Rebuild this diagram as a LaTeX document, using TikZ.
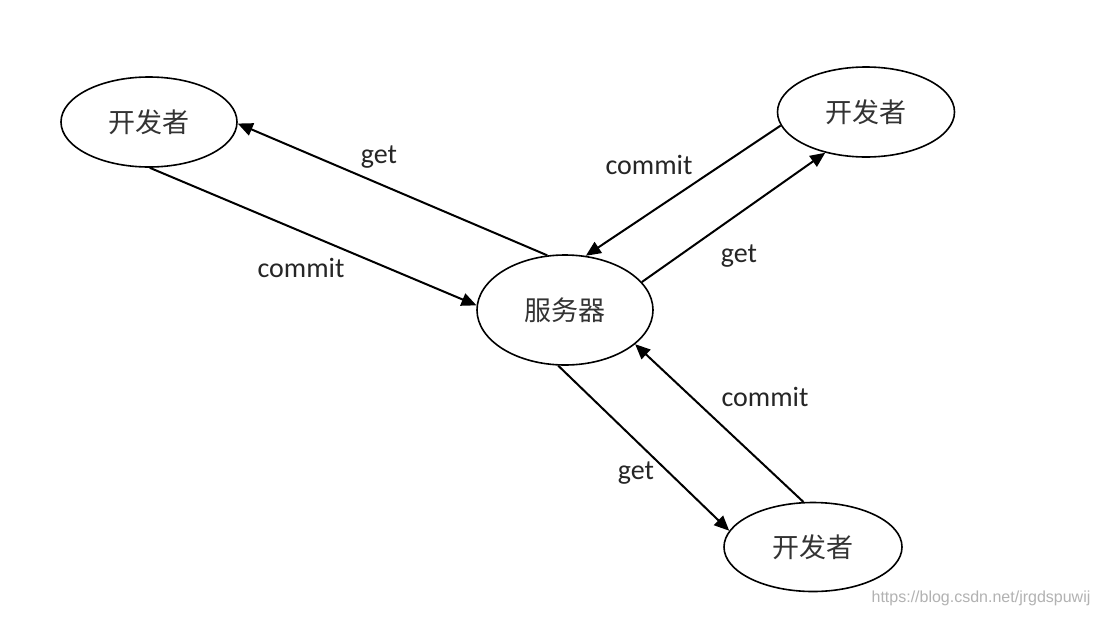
\documentclass[tikz,border=0pt]{standalone}
\usepackage{fontspec}
\setmainfont{Carlito}
\newfontfamily\cjk{Noto Sans CJK SC}
\newfontfamily\wmfont{Liberation Sans}
\usetikzlibrary{arrows.meta, shapes.geometric}

\tikzset{
	party/.style={shape=ellipse, draw, line width=1.6pt, inner sep=0pt, minimum width=176pt, minimum height=90pt, font=\cjk\fontsize{27}{31}\selectfont, text=black!80},
	flow/.style={line width=2pt, -{Triangle[length=15pt, width=13pt]}},
	tag/.style={font=\fontsize{28}{32}\selectfont, text=black!85}
}

\begin{document}
\begin{tikzpicture}[x=1pt, y=-1pt]
	\useasboundingbox[fill=white] (0,0) rectangle (1099,616);
	% Nodes:
	\node[party] (devA) at (149,122) {开发者};
	\node[party, minimum width=177pt] (devB) at (866,112) {开发者};
	\node[party, minimum width=176pt, minimum height=110pt] (server) at (565,310) {服务器};
	\node[party, minimum width=178pt, minimum height=89pt] (devC) at (813,547) {开发者};
	% Wires and labels:
	\draw[flow] (server.108) -- (devA.-1);
	\draw[flow] (devA.-89) -- (server.177);
	\draw[flow] (devB.189) -- (server.69);
	\draw[flow] (server.20) -- (devB.225);
	\draw[flow] (devC.102) -- (server.-26);
	\draw[flow] (server.-97) -- (devC.169);
	\node[tag] (getA) at (379,157) {get};
	\node[tag] (commitA) at (301,268) {commit};
	\node[tag] (commitB) at (649,165) {commit};
	\node[tag] (getB) at (739,256) {get};
	\node[tag] (commitC) at (765,397) {commit};
	\node[tag] (getC) at (636,473) {get};
	\node[font=\wmfont\fontsize{16}{18}\selectfont, text=black!30] (mark) at (981,598) {https://blog.csdn.net/jrgdspuwij};
\end{tikzpicture}
\end{document}
